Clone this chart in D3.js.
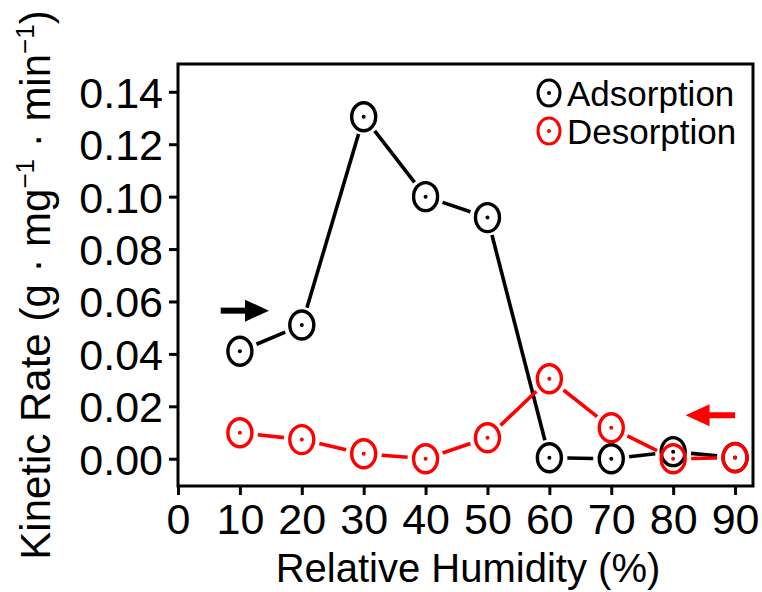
<!DOCTYPE html>
<html>
<head>
<meta charset="utf-8">
<script src="https://cdn.jsdelivr.net/npm/d3@7"></script>
<style>
  body { margin: 0; background: #fff; }
  text { font-family: "Liberation Sans", Arial, sans-serif; fill: #000; }
</style>
</head>
<body>
<svg id="chart" width="762" height="592"></svg>
<script>
// relative humidity (%)
const humidity = [10, 20, 30, 40, 50, 60, 70, 80, 90];
// kinetic rate (g · mg-1 · min-1)
const adsorption = [0.041, 0.051, 0.1305, 0.100, 0.092, 0.0004, 0.0000, 0.0027, 0.0005];
const desorption = [0.0099, 0.0073, 0.0019, 0.0000, 0.0080, 0.0305, 0.0118, 0.0000, 0.0004];
const xTicks = [0, 10, 20, 30, 40, 50, 60, 70, 80, 90];
const yTicks = [0, 0.02, 0.04, 0.06, 0.08, 0.10, 0.12, 0.14];
const seriesNames = ["Adsorption", "Desorption"];
const seriesColors = ["#000000", "#ff0000"];

const svg = d3.select("#chart");
const margin = { top: 64, right: 9, bottom: 106, left: 178 };
const width = 762 - margin.left - margin.right;
const height = 592 - margin.top - margin.bottom;

const x = d3.scaleLinear().domain([0, 92.9]).range([margin.left, margin.left + width]);
const y = d3.scaleLinear().domain([-0.0104, 0.1506]).range([margin.top + height, margin.top]);

// axes (ticks outward)
const xAxis = svg.append("g")
  .attr("transform", `translate(0,${margin.top + height})`)
  .call(d3.axisBottom(x).tickValues(xTicks).tickSize(9).tickPadding(8).tickFormat(d3.format("d")));
const yAxis = svg.append("g")
  .attr("transform", `translate(${margin.left},0)`)
  .call(d3.axisLeft(y).tickValues(yTicks).tickSize(9).tickPadding(6).tickFormat(d3.format(".2f")));

[xAxis, yAxis].forEach(function (a) {
  a.select(".domain").remove();
  a.selectAll(".tick line").attr("stroke", "#000").attr("stroke-width", 3);
  a.selectAll(".tick text")
    .attr("font-family", "Liberation Sans, Arial, sans-serif")
    .attr("font-size", 43)
    .attr("fill", "#000");
});
yAxis.selectAll(".tick text").attr("dy", "0.36em");

// frame
svg.append("rect")
  .attr("x", margin.left)
  .attr("y", margin.top)
  .attr("width", width)
  .attr("height", height)
  .attr("fill", "none")
  .attr("stroke", "#000")
  .attr("stroke-width", 3);

// axis titles
svg.append("text")
  .attr("x", 468)
  .attr("y", 582)
  .attr("text-anchor", "middle")
  .attr("font-size", 40)
  .text("Relative Humidity (%)");

const yt = svg.append("text")
  .attr("transform", "translate(50,285) rotate(-90)")
  .attr("text-anchor", "middle")
  .attr("font-size", 42);
yt.append("tspan").text("Kinetic Rate (g · mg");
yt.append("tspan").attr("font-size", 26).attr("dy", -16).text("−1");
yt.append("tspan").attr("dy", 16).text(" · min");
yt.append("tspan").attr("font-size", 26).attr("dy", -16).text("−1");
yt.append("tspan").attr("dy", 16).text(")");

// series: broken lines with gaps at markers, open circles with centre dot
const rx = 12, ry = 14, gap = 18;
const series = [adsorption, desorption];

series.forEach(function (vals, si) {
  const pts = humidity.map((h, i) => [x(h), y(vals[i])]);
  const segs = d3.pairs(pts).map(function ([a, b]) {
    const dx = b[0] - a[0], dy = b[1] - a[1];
    const len = Math.hypot(dx, dy);
    return [a[0] + dx / len * gap, a[1] + dy / len * gap,
            b[0] - dx / len * gap, b[1] - dy / len * gap, len];
  }).filter(s => s[4] > 2 * gap + 1);

  const g = svg.append("g");
  g.selectAll("line")
    .data(segs)
    .join("line")
    .attr("x1", d => d[0]).attr("y1", d => d[1])
    .attr("x2", d => d[2]).attr("y2", d => d[3])
    .attr("stroke", seriesColors[si])
    .attr("stroke-width", 3.6);

  g.selectAll("ellipse")
    .data(pts)
    .join("ellipse")
    .attr("cx", d => d[0]).attr("cy", d => d[1])
    .attr("rx", rx).attr("ry", ry)
    .attr("fill", "none")
    .attr("stroke", seriesColors[si])
    .attr("stroke-width", 3.4);

  g.selectAll("circle")
    .data(pts)
    .join("circle")
    .attr("cx", d => d[0]).attr("cy", d => d[1])
    .attr("r", 2)
    .attr("fill", seriesColors[si]);
});

// direction arrows
function arrow(x0, x1, yv, color) {
  const xa = x(x0), xb = x(x1), yy = y(yv);
  const dir = Math.sign(xb - xa);
  const headLen = 24, headHalf = 11;
  svg.append("line")
    .attr("x1", xa).attr("y1", yy)
    .attr("x2", xb - dir * headLen + dir * 2).attr("y2", yy)
    .attr("stroke", color)
    .attr("stroke-width", 6);
  svg.append("path")
    .attr("d", d3.line()([[xb, yy], [xb - dir * headLen, yy - headHalf], [xb - dir * headLen, yy + headHalf]]) + "Z")
    .attr("fill", color);
}
arrow(6.9, 14.7, 0.0565, seriesColors[0]);
arrow(90.0, 82.0, 0.0166, seriesColors[1]);

// legend
const legend = svg.append("g");
seriesNames.forEach(function (name, i) {
  const cy = 93 + i * 38;
  legend.append("ellipse")
    .attr("cx", 549).attr("cy", cy)
    .attr("rx", 11).attr("ry", 13)
    .attr("fill", "none")
    .attr("stroke", seriesColors[i])
    .attr("stroke-width", 3);
  legend.append("circle")
    .attr("cx", 549).attr("cy", cy).attr("r", 2)
    .attr("fill", seriesColors[i]);
  legend.append("text")
    .attr("x", 567).attr("y", cy)
    .attr("dy", "0.36em")
    .attr("font-size", 35)
    .text(name);
});
</script>
</body>
</html>
